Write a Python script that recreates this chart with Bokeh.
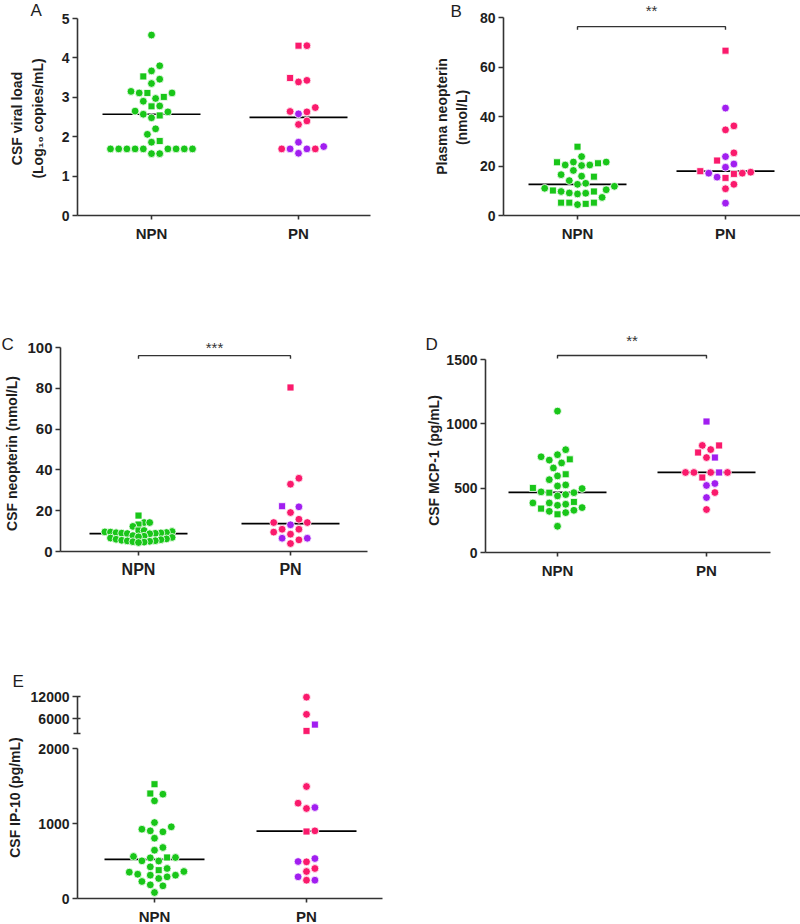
import numpy as np
from bokeh.plotting import figure
from bokeh.layouts import column, row
from bokeh.models import Range1d, FixedTicker, LinearAxis, Label, ColumnDataSource
from bokeh.core.properties import value, field
from bokeh.embed import file_html
from bokeh.resources import INLINE

# ---------------- data ----------------
groups = ["NPN", "PN"]

# A: CSF viral load (log10 copies/mL)
A_npn_val = [4.58, 3.80, 3.67, 3.53, 3.46, 3.35, 3.01, 3.11, 3.11, 3.11, 3.15, 2.90, 2.97, 2.78,
             2.77, 2.65, 2.57, 2.54, 2.63, 2.48, 2.20, 2.06, 1.89, 1.86, 1.69, 1.69, 1.69, 1.69,
             1.69, 1.69, 1.69, 1.69, 1.69, 1.57, 1.57]
A_npn_shp = ["c", "c", "c", "s", "c", "c", "s", "s", "c", "c", "c", "c", "c", "c",
             "s", "c", "c", "s", "c", "c", "c", "c", "s", "c", "c", "c", "c", "c",
             "c", "c", "c", "c", "c", "c", "c"]
A_pn_val = [4.31, 4.31, 3.49, 3.43, 3.39, 2.74, 2.64, 2.63, 2.58, 2.40, 2.31, 1.86, 1.75, 1.69,
            1.69, 1.69, 1.69, 1.58]
A_pn_shp = ["s", "c", "s", "c", "c", "c", "c", "c", "c", "c", "c", "c", "c", "c", "c", "c", "c", "c"]
A_pn_col = ["p", "p", "p", "p", "p", "p", "p", "p", "v", "p", "p", "v", "v", "v", "v", "p", "p", "v"]
A_ylabel = ["CSF viral load", "(Log\u2081\u2080 copies/mL)"]
A_yticks = [0, 1, 2, 3, 4, 5]

# B: plasma neopterin (nmol/L)
B_npn_val = [27.8, 23.8, 21.6, 20.4, 20.2, 21.5, 21.1, 21.6, 20.4, 16.5, 15.7, 15.9, 18.2, 14.1,
             13.0, 11.8, 12.6, 11.0, 9.1, 8.7, 10.4, 9.7, 9.7, 10.1, 9.0, 7.3, 5.2, 5.2, 4.4, 4.7, 5.2]
B_npn_shp = ["s", "c", "c", "c", "c", "s", "s", "c", "c", "c", "s", "c", "c", "c",
             "c", "c", "c", "c", "c", "c", "c", "s", "c", "s", "c", "c", "s", "s", "c", "s", "s"]
B_pn_val = [66.6, 43.4, 36.2, 34.6, 25.3, 23.8, 22.2, 20.8, 19.5, 17.9, 17.5, 17.1, 17.1, 16.8,
            15.5, 15.2, 12.6, 10.8, 5.0]
B_pn_shp = ["s", "c", "c", "c", "c", "c", "s", "c", "c", "s", "c", "c", "c", "s", "c", "s", "c", "c", "c"]
B_pn_col = ["p", "v", "p", "p", "p", "v", "p", "v", "v", "p", "p", "p", "v", "p", "v", "p", "p", "p", "v"]
B_ylabel = ["Plasma neopterin", "(nmol/L)"]
B_yticks = [0, 20, 40, 60, 80]
B_sig_text = "**"
B_sig_level = 76.3

# C: CSF neopterin (nmol/L)
C_npn_val = [17.6, 14.2, 14.2, 13.2, 12.3, 10.3, 10.3, 9.8, 9.6, 9.5, 9.3, 9.2, 9.1, 9.0, 8.9,
             8.8, 8.7, 7.8, 7.5, 7.2, 6.9, 6.6, 6.2, 6.0, 5.8, 5.5, 5.3, 5.2, 5.0, 4.8, 4.6, 4.4]
C_npn_shp = ["s", "c", "c", "s", "c", "s", "c", "c", "c", "c", "c", "c", "c", "c", "c",
             "c", "c", "c", "c", "c", "c", "c", "c", "c", "c", "c", "c", "c", "c", "c", "c", "c"]
C_pn_val = [80.4, 35.9, 33.0, 22.2, 21.9, 19.1, 15.8, 14.2, 14.2, 13.1, 10.9, 10.9, 9.5, 8.5,
            6.5, 6.5, 5.7, 3.9]
C_pn_shp = ["s", "c", "c", "s", "c", "c", "c", "c", "c", "c", "c", "c", "c", "c", "c", "c", "c", "c"]
C_pn_col = ["p", "p", "p", "v", "v", "p", "p", "p", "p", "v", "p", "p", "p", "p", "v", "v", "p", "p"]
C_ylabel = ["CSF neopterin (nmol/L)"]
C_yticks = [0, 20, 40, 60, 80, 100]
C_sig_text = "***"
C_sig_level = 96.0

# D: CSF MCP-1 (pg/mL)
D_npn_val = [1099, 799, 760, 744, 724, 718, 696, 657, 608, 595, 566, 525, 517, 502, 497, 471,
             465, 465, 450, 440, 393, 385, 385, 375, 367, 349, 341, 328, 320, 310, 297, 204]
D_npn_shp = ["c", "c", "c", "c", "s", "c", "c", "c", "s", "c", "c", "c", "c", "s", "c", "c",
             "s", "c", "c", "c", "s", "c", "c", "c", "c", "c", "s", "c", "c", "c", "s", "c"]
D_pn_val = [1018, 832, 832, 800, 777, 738, 738, 622, 622, 622, 622, 622, 583, 536, 521, 466, 427, 334]
D_pn_shp = ["s", "c", "s", "c", "s", "c", "s", "c", "s", "c", "c", "c", "s", "c", "c", "c", "c", "c"]
D_pn_col = ["v", "p", "p", "p", "p", "p", "v", "p", "v", "p", "p", "p", "p", "v", "v", "p", "v", "p"]
D_ylabel = ["CSF MCP-1 (pg/mL)"]
D_yticks = [0, 500, 1000, 1500]
D_sig_text = "**"
D_sig_level = 1531

# E: CSF IP-10 (pg/mL), broken axis
E_npn_val = [1524, 1400, 1391, 1302, 1013, 956, 924, 902, 889, 804, 680, 644, 560, 547, 547, 542,
             502, 500, 422, 400, 378, 360, 351, 324, 311, 311, 289, 267, 227, 182, 169, 80]
E_npn_shp = ["s", "s", "c", "c", "c", "c", "c", "c", "c", "c", "c", "c", "c", "s", "c", "c",
             "c", "c", "c", "c", "s", "c", "c", "c", "c", "c", "c", "c", "c", "c", "c", "c"]
E_pn_val = [11820, 7170, 4400, 2700, 1493, 1271, 1213, 1200, 902, 893, 533, 493, 489, 400, 360,
            289, 244, 244]
E_pn_shp = ["c", "c", "s", "s", "c", "c", "c", "c", "c", "s", "c", "c", "c", "c", "c", "c", "c", "c"]
E_pn_col = ["p", "p", "v", "p", "p", "p", "v", "p", "p", "p", "v", "v", "p", "p", "p", "v", "p", "v"]
E_ylabel = ["CSF IP-10 (pg/mL)"]
E_yticks_low = [0, 1000, 2000]
E_yticks_high = [6000, 12000]
E_break = 2000
E_top_max = 12000

# ---------------- styles ----------------
FONT = "Liberation Sans"
TXT = "#1e1e1e"
AX = "#333333"
COLMAP = {"g": "#19c619", "p": "#fa1a6c", "v": "#a11ef0"}
MARKMAP = {"c": "circle", "s": "square"}
SIZEMAP = {"c": 7.8, "s": 7.0}


def swarm(vals, ypx, xppu, step=4.2, mind=8.2):
    vals = np.asarray(vals, float)
    order = np.argsort(vals, kind="stable")
    placed = []
    offs = np.zeros(len(vals))
    cands = [0.0]
    for j in range(1, 40):
        cands += [j * step, -j * step]
    for i in order:
        y = ypx(vals[i])
        chosen = 0.0
        for c in cands:
            if all((c - px) ** 2 + (y - py) ** 2 >= mind ** 2 for px, py in placed):
                chosen = c
                break
        placed.append((chosen, y))
        offs[i] = chosen / xppu
    return offs


class Canvas:
    """A figure whose frame fills the whole canvas; page-pixel anchors give the scales."""

    def __init__(self, x0, y0, W, H, cx1, cx2, a_val, a_py, b_val, b_py):
        self.x0, self.y0, self.W, self.H = x0, y0, W, H
        self.ppu = cx2 - cx1
        xa = 1 - (cx1 - x0) / self.ppu
        self.xa = xa
        self.upp = (b_val - a_val) / (a_py - b_py)
        ya = a_val - (y0 + H - a_py) * self.upp
        yb = a_val + (a_py - y0) * self.upp
        self.p = figure(width=W, height=H, x_range=Range1d(xa, xa + W / self.ppu),
                        y_range=Range1d(ya, yb), x_axis_location=None, y_axis_location=None,
                        min_border=0, title=None, output_backend="svg", toolbar_location=None)
        self.p.grid.visible = False
        self.p.outline_line_color = None
        self.p.background_fill_color = "white"
        self.p.border_fill_color = "white"

    def X(self, px):
        return self.xa + (px - self.x0) / self.ppu

    def label(self, text, px, py, angle=0.0, size="14px", style="bold", baseline="middle",
              align="center"):
        self.p.add_layout(Label(x=px - self.x0, y=self.y0 + self.H - py, x_units="screen",
                                y_units="screen", text=text, angle=angle, text_font=FONT,
                                text_font_style=style, text_font_size=size, text_color=TXT,
                                text_align=align, text_baseline=baseline))


def style_axis(a, tick_fs):
    a.major_label_text_font = FONT
    a.major_label_text_font_style = "bold"
    a.major_label_text_font_size = tick_fs
    a.major_label_text_color = TXT
    a.axis_line_color = AX
    a.axis_line_width = 1.6
    a.major_tick_line_color = AX
    a.major_tick_line_width = 1.6
    a.minor_tick_line_color = None


def add_y_axis(c, axis_px, ticks, bounds, tick_fs="14px", range_name="default", minor=None):
    ya = LinearAxis(fixed_location=c.X(axis_px), bounds=bounds, y_range_name=range_name,
                    ticker=FixedTicker(ticks=ticks, minor_ticks=minor or []))
    style_axis(ya, tick_fs)
    ya.major_tick_out = 5
    ya.major_tick_in = 0
    ya.major_label_standoff = 3
    if minor:
        ya.major_tick_in = 3
        ya.minor_tick_in = 3
        ya.minor_tick_out = 4
        ya.minor_tick_line_color = AX
        ya.minor_tick_line_width = 1.6
    c.p.add_layout(ya, "left")
    return ya


def add_x_axis(c, x_from_px, x_to_px, cat_fs="15px"):
    xa = LinearAxis(fixed_location=0, bounds=(c.X(x_from_px), c.X(x_to_px)),
                    ticker=FixedTicker(ticks=[i + 1 for i in range(len(groups))]))
    xa.major_label_overrides = {i + 1: g for i, g in enumerate(groups)}
    style_axis(xa, cat_fs)
    xa.major_tick_out = 4
    xa.major_tick_in = 0
    xa.major_label_standoff = 5
    c.p.add_layout(xa, "below")


def add_points(c, xoffs, gi, vals, shp, col, range_name="default"):
    src = ColumnDataSource(dict(
        x=[gi + o for o in xoffs], y=list(vals),
        marker=[MARKMAP[s] for s in shp], size=[SIZEMAP[s] for s in shp],
        color=[COLMAP[k] for k in col]))
    c.p.scatter("x", "y", source=src, marker=field("marker"), size=field("size"),
                fill_color=field("color"), line_color="white", line_width=0.8,
                y_range_name=range_name)


def add_median(c, gi, vals, half_px=49):
    m = float(np.median(vals))
    hw = half_px / c.ppu
    c.p.segment(x0=[gi - hw], x1=[gi + hw], y0=[m], y1=[m], line_color="black", line_width=1.7)


def add_sig(c, text, level, gap_px):
    d = 3 * c.upp
    c.p.line(x=[1, 1, 2, 2], y=[level - d, level, level, level - d], line_color=AX, line_width=1.4)
    c.p.text(x=[(1 + 2) / 2], y=[level], text=[text], text_font=value(FONT),
             text_font_size="15px", text_color=AX, text_align="center",
             text_baseline="middle", y_offset=-gap_px)


def std_panel(geo, npn, npn_s, pn, pn_s, pn_c, yticks, ylabel, lab_pos, letter, let_pos,
              sig=None, tick_fs="14px", cat_fs="15px", npn_gap=8.2):
    x0, y0, W, H, axis_x, x_end, cx1, cx2, zero_py, ymax, ymax_py = geo
    c = Canvas(x0, y0, W, H, cx1, cx2, 0, zero_py, ymax, ymax_py)
    add_y_axis(c, axis_x, yticks, (0, ymax), tick_fs)
    add_x_axis(c, axis_x, x_end, cat_fs)
    ypx = lambda v: v / c.upp
    add_median(c, 1, npn)
    add_median(c, 2, pn)
    add_points(c, swarm(npn, ypx, c.ppu, step=npn_gap / 2, mind=npn_gap), 1, npn, npn_s,
               ["g"] * len(npn))
    add_points(c, swarm(pn, ypx, c.ppu), 2, pn, pn_s, pn_c)
    if sig is not None:
        add_sig(c, *sig)
    for text, (lx, ly) in zip(ylabel, lab_pos):
        c.label(text, lx, ly, angle=np.pi / 2)
    c.label(letter, let_pos[0], let_pos[1], size="17px", style="normal", baseline="top",
            align="left")
    return c.p


# geometry: canvas x0, y0, W, H, y-axis px, x-axis end px, NPN px, PN px, y px of 0, top value, its y px
pA = std_panel((0, 0, 400, 320, 77, 370, 151, 298, 215, 5, 18),
               A_npn_val, A_npn_shp, A_pn_val, A_pn_shp, A_pn_col, A_yticks,
               A_ylabel, [(16, 118), (37, 118)], "A", (30, 0))
pB = std_panel((400, 0, 400, 320, 503, 800, 577, 725, 215, 80, 17),
               B_npn_val, B_npn_shp, B_pn_val, B_pn_shp, B_pn_col, B_yticks,
               B_ylabel, [(441, 116), (461, 117)], "B", (450, 1),
               sig=(B_sig_text, B_sig_level, 16))
pC = std_panel((0, 320, 400, 280, 60, 367, 138, 290, 551, 100, 347),
               C_npn_val, C_npn_shp, C_pn_val, C_pn_shp, C_pn_col, C_yticks,
               C_ylabel, [(11, 453)], "C", (1, 334),
               sig=(C_sig_text, C_sig_level, 8), tick_fs="15px", cat_fs="16px", npn_gap=5.6)
pD = std_panel((400, 320, 400, 280, 485, 770, 557, 706, 552, 1500, 359),
               D_npn_val, D_npn_shp, D_pn_val, D_pn_shp, D_pn_col, D_yticks,
               D_ylabel, [(433, 460)], "D", (425, 334),
               sig=(D_sig_text, D_sig_level, 15))

# ---------------- panel E with broken y axis ----------------
cE = Canvas(0, 600, 400, 324, 154, 306, 0, 898, E_break, 748)
top_lo_py, top_hi_py = 733, 696
t_upp = (E_top_max - E_break) / (top_lo_py - top_hi_py)
cE.p.extra_y_ranges = {"top": Range1d(E_break - (924 - top_lo_py) * t_upp,
                                      E_break + (top_lo_py - 600) * t_upp)}
add_y_axis(cE, 77, E_yticks_low, (0, E_break))
add_y_axis(cE, 77, E_yticks_high, (E_break, E_top_max), range_name="top", minor=[E_break])
add_x_axis(cE, 77, 382)


def ypxE(v):
    if v <= E_break:
        return -898 + v / cE.upp
    return -top_lo_py + (v - E_break) / t_upp


add_median(cE, 1, E_npn_val, 50)
add_median(cE, 2, E_pn_val, 50)
offE_npn = swarm(E_npn_val, ypxE, cE.ppu)
offE_pn = swarm(E_pn_val, ypxE, cE.ppu)
add_points(cE, offE_npn, 1, E_npn_val, E_npn_shp, ["g"] * len(E_npn_val))
lo = [i for i, v in enumerate(E_pn_val) if v <= E_break]
hi = [i for i, v in enumerate(E_pn_val) if v > E_break]
add_points(cE, [offE_pn[i] for i in lo], 2, [E_pn_val[i] for i in lo],
           [E_pn_shp[i] for i in lo], [E_pn_col[i] for i in lo])
add_points(cE, [offE_pn[i] for i in hi], 2, [E_pn_val[i] for i in hi],
           [E_pn_shp[i] for i in hi], [E_pn_col[i] for i in hi], range_name="top")
cE.label(E_ylabel[0], 14, 797, angle=np.pi / 2)
cE.label("E", 12, 671, size="17px", style="normal", baseline="top", align="left")
pE = cE.p

layout = column(row(pA, pB), row(pC, pD), pE)
open("out.html", "w").write(file_html(layout, INLINE))
